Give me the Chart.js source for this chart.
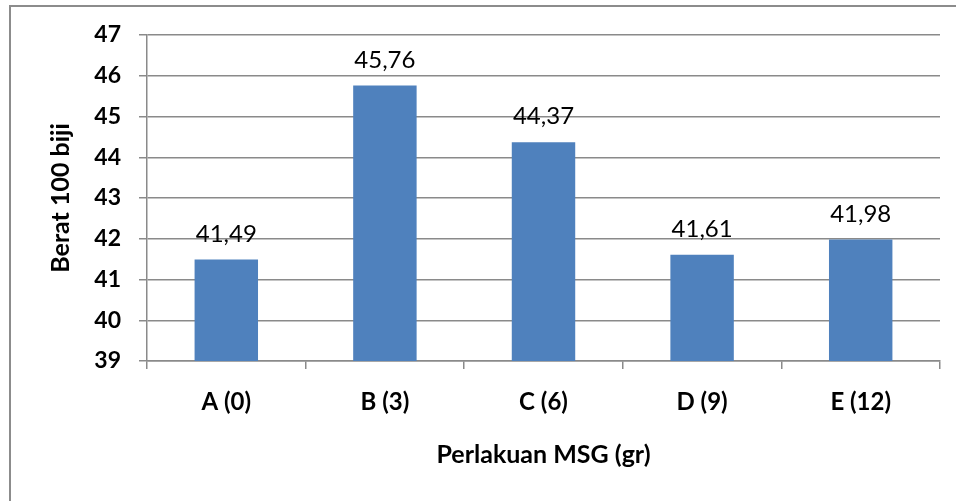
<!DOCTYPE html>
<html>
<head>
<meta charset="utf-8">
<script src="https://cdn.jsdelivr.net/npm/chart.js@4"></script>
<style>
  html, body { margin: 0; padding: 0; background: #fff; }
  #wrap { width: 959px; height: 501px; }
</style>
</head>
<body>
<div id="wrap"><canvas id="msgChart" width="959" height="501"></canvas></div>
<script>
const categories = ['A (0)', 'B (3)', 'C (6)', 'D (9)', 'E (12)'];
const berat = [41.49, 45.76, 44.37, 41.61, 41.98];

const gridColor = '#8a8a8a';

// labels on top of each bar, decimal comma
const barValues = {
    id: 'barValues',
    afterDatasetsDraw(chart) {
        const ctx = chart.ctx;
        const meta = chart.getDatasetMeta(0);
        ctx.save();
        ctx.font = '24px Lato';
        ctx.fillStyle = '#000';
        ctx.textAlign = 'center';
        ctx.textBaseline = 'alphabetic';
        meta.data.forEach((bar, i) => {
            const txt = berat[i].toFixed(2).replace('.', ',');
            ctx.fillText(txt, bar.x, bar.y - 18);
        });
        ctx.restore();
    }
};

// chart frame (only top and left edges fall inside the page)
const frame = {
    id: 'frame',
    beforeDraw(chart) {
        const ctx = chart.ctx;
        ctx.save();
        ctx.fillStyle = '#fff';
        ctx.fillRect(0, 0, chart.width, chart.height);
        ctx.strokeStyle = '#8c8c8c';
        ctx.lineWidth = 2;
        ctx.beginPath();
        ctx.moveTo(10, 501);
        ctx.lineTo(10, 6);
        ctx.lineTo(956, 6);
        ctx.stroke();
        ctx.restore();
    }
};

const ctx = document.getElementById('msgChart').getContext('2d');
new Chart(ctx, {
    type: 'bar',
    data: {
        labels: categories,
        datasets: [{
            label: 'Berat 100 biji',
            data: berat,
            backgroundColor: '#4f81bd',
            borderWidth: 0,
            categoryPercentage: 1,
            barPercentage: 0.4
        }]
    },
    options: {
        responsive: false,
        animation: false,
        layout: { padding: { left: 0, top: 35, right: 19, bottom: 0 } },
        plugins: {
            legend: { display: false },
            tooltip: { enabled: false }
        },
        scales: {
            y: {
                min: 39,
                max: 47,
                afterFit(scale) { scale.width = 147; },
                ticks: {
                    stepSize: 1,
                    padding: 18,
                    color: '#000',
                    font: { family: 'Lato', size: 23, weight: 'bold' }
                },
                grid: { color: gridColor, lineWidth: 1.5, tickLength: 8 },
                border: { color: gridColor, width: 1.5 },
                title: {
                    display: true,
                    text: 'Berat 100 biji',
                    color: '#000',
                    font: { family: 'Lato', size: 25, weight: 'bold' },
                    padding: { top: 46, bottom: 0 }
                }
            },
            x: {
                afterFit(scale) { scale.height = 140; },
                ticks: {
                    padding: 19,
                    color: '#000',
                    font: { family: 'Lato', size: 24, weight: 'bold' }
                },
                grid: { drawOnChartArea: false, color: gridColor, lineWidth: 1.5, tickLength: 8 },
                border: { color: gridColor, width: 1.5 },
                title: {
                    display: true,
                    text: 'Perlakuan MSG (gr)',
                    color: '#000',
                    font: { family: 'Lato', size: 25, weight: 'bold' },
                    padding: { top: 0, bottom: 31 }
                }
            }
        }
    },
    plugins: [frame, barValues]
});
</script>
</body>
</html>
